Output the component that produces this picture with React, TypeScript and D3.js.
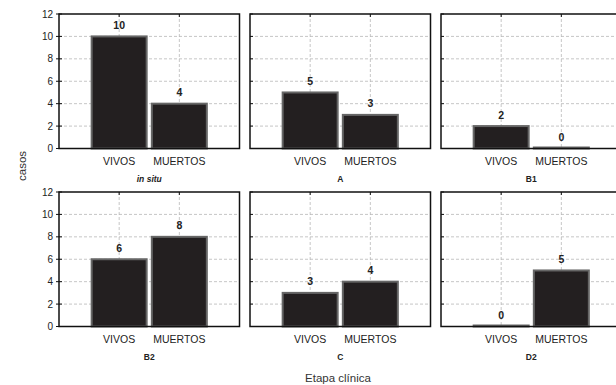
import React, { useEffect, useRef } from 'react';
import * as d3 from 'd3';

// etapas clínicas (one panel each) and the two outcome categories
const stages = ['in situ', 'A', 'B1', 'B2', 'C', 'D2'];
const outcomes = ['VIVOS', 'MUERTOS'];
const vivos = [10, 5, 2, 6, 3, 0];
const muertos = [4, 3, 0, 8, 4, 5];
const yTicks = [0, 2, 4, 6, 8, 10, 12];

const W = 616;
const H = 385;

const App: React.FC = () => {
  const svgRef = useRef<SVGSVGElement>(null);

  useEffect(() => {
    if (!svgRef.current) return;
    const svg = d3.select(svgRef.current);
    svg.selectAll('*').remove();

    const font = '"Liberation Sans", Arial, sans-serif';
    const panelW = 180.5;
    const panelH = 134.5;
    const colX = [59, 250, 441];
    const rowY = [14, 192];

    const y = d3.scaleLinear().domain([0, 12]).range([panelH, 0]);
    const x = d3.scalePoint<string>().domain(outcomes).range([panelW / 3, (panelW * 2) / 3]);
    const barW = 55;

    stages.forEach((stage, i) => {
      const col = i % 3;
      const row = Math.floor(i / 3);
      const g = svg.append('g').attr('transform', `translate(${colX[col]},${rowY[row]})`);

      // grid lines
      g.selectAll('.hgrid')
        .data(yTicks.filter(t => t > 0 && t < 12))
        .enter()
        .append('line')
        .attr('x1', 0)
        .attr('x2', panelW)
        .attr('y1', d => y(d))
        .attr('y2', d => y(d))
        .style('stroke', '#b8b8b8')
        .style('stroke-width', 0.8)
        .style('stroke-dasharray', '3,2');

      g.selectAll('.vgrid')
        .data(outcomes)
        .enter()
        .append('line')
        .attr('x1', d => x(d)!)
        .attr('x2', d => x(d)!)
        .attr('y1', 0)
        .attr('y2', panelH)
        .style('stroke', '#b8b8b8')
        .style('stroke-width', 0.8)
        .style('stroke-dasharray', '3,2');

      const vals = [vivos[i], muertos[i]];

      // bars (zero values still show a thin sliver, as in the original)
      g.selectAll('.bar')
        .data(vals)
        .enter()
        .append('rect')
        .attr('x', (d, j) => x(outcomes[j])! - barW / 2)
        .attr('y', d => Math.min(y(d), panelH - 1))
        .attr('width', barW)
        .attr('height', d => Math.max(1, panelH - y(d)))
        .style('fill', '#231f20')
        .style('stroke', '#666')
        .style('stroke-width', 2);

      // value labels
      g.selectAll('.val')
        .data(vals)
        .enter()
        .append('text')
        .attr('x', (d, j) => x(outcomes[j])!)
        .attr('y', d => y(d) - 7.5)
        .attr('text-anchor', 'middle')
        .style('font-family', font)
        .style('font-size', '10.5px')
        .style('font-weight', 'bold')
        .style('fill', '#222')
        .text(d => d);

      // frame
      g.append('rect')
        .attr('x', 0)
        .attr('y', 0)
        .attr('width', panelW)
        .attr('height', panelH)
        .style('fill', 'none')
        .style('stroke', '#111')
        .style('stroke-width', 1.5);

      // small ticks on left axis and top axis
      g.selectAll('.ytick')
        .data(yTicks)
        .enter()
        .append('line')
        .attr('x1', col === 0 ? -3 : 0)
        .attr('x2', 3)
        .attr('y1', d => y(d))
        .attr('y2', d => y(d))
        .style('stroke', '#111')
        .style('stroke-width', 1);

      g.selectAll('.xtick')
        .data(outcomes)
        .enter()
        .append('line')
        .attr('x1', d => x(d)!)
        .attr('x2', d => x(d)!)
        .attr('y1', 0)
        .attr('y2', 3)
        .style('stroke', '#111')
        .style('stroke-width', 1);

      if (col === 0) {
        g.selectAll('.ylab')
          .data(yTicks)
          .enter()
          .append('text')
          .attr('x', -6)
          .attr('y', d => y(d))
          .attr('dy', '0.35em')
          .attr('text-anchor', 'end')
          .style('font-family', font)
          .style('font-size', '10px')
          .style('fill', '#222')
          .text(d => d);
      }

      // category labels
      g.selectAll('.cat')
        .data(outcomes)
        .enter()
        .append('text')
        .attr('x', d => x(d)!)
        .attr('y', panelH + 16)
        .attr('text-anchor', 'middle')
        .style('font-family', font)
        .style('font-size', '10.5px')
        .style('fill', '#222')
        .text(d => d);

      // stage title
      g.append('text')
        .attr('x', panelW / 2)
        .attr('y', panelH + 33)
        .attr('text-anchor', 'middle')
        .style('font-family', font)
        .style('font-size', '8.5px')
        .style('font-weight', 'bold')
        .style('font-style', i === 0 ? 'italic' : 'normal')
        .style('fill', '#222')
        .text(stage);
    });

    svg.append('text')
      .attr('transform', 'translate(26,166) rotate(-90)')
      .attr('text-anchor', 'middle')
      .style('font-family', font)
      .style('font-size', '11.5px')
      .style('fill', '#333')
      .text('casos');

    svg.append('text')
      .attr('x', 338)
      .attr('y', 382)
      .attr('text-anchor', 'middle')
      .style('font-family', font)
      .style('font-size', '11.5px')
      .style('fill', '#333')
      .text('Etapa clínica');
  }, []);

  return (
    <svg
      ref={svgRef}
      width={W}
      height={H}
      style={{ position: 'absolute', left: 0, top: 0, background: '#fff' }}
    />
  );
};

export default App;
